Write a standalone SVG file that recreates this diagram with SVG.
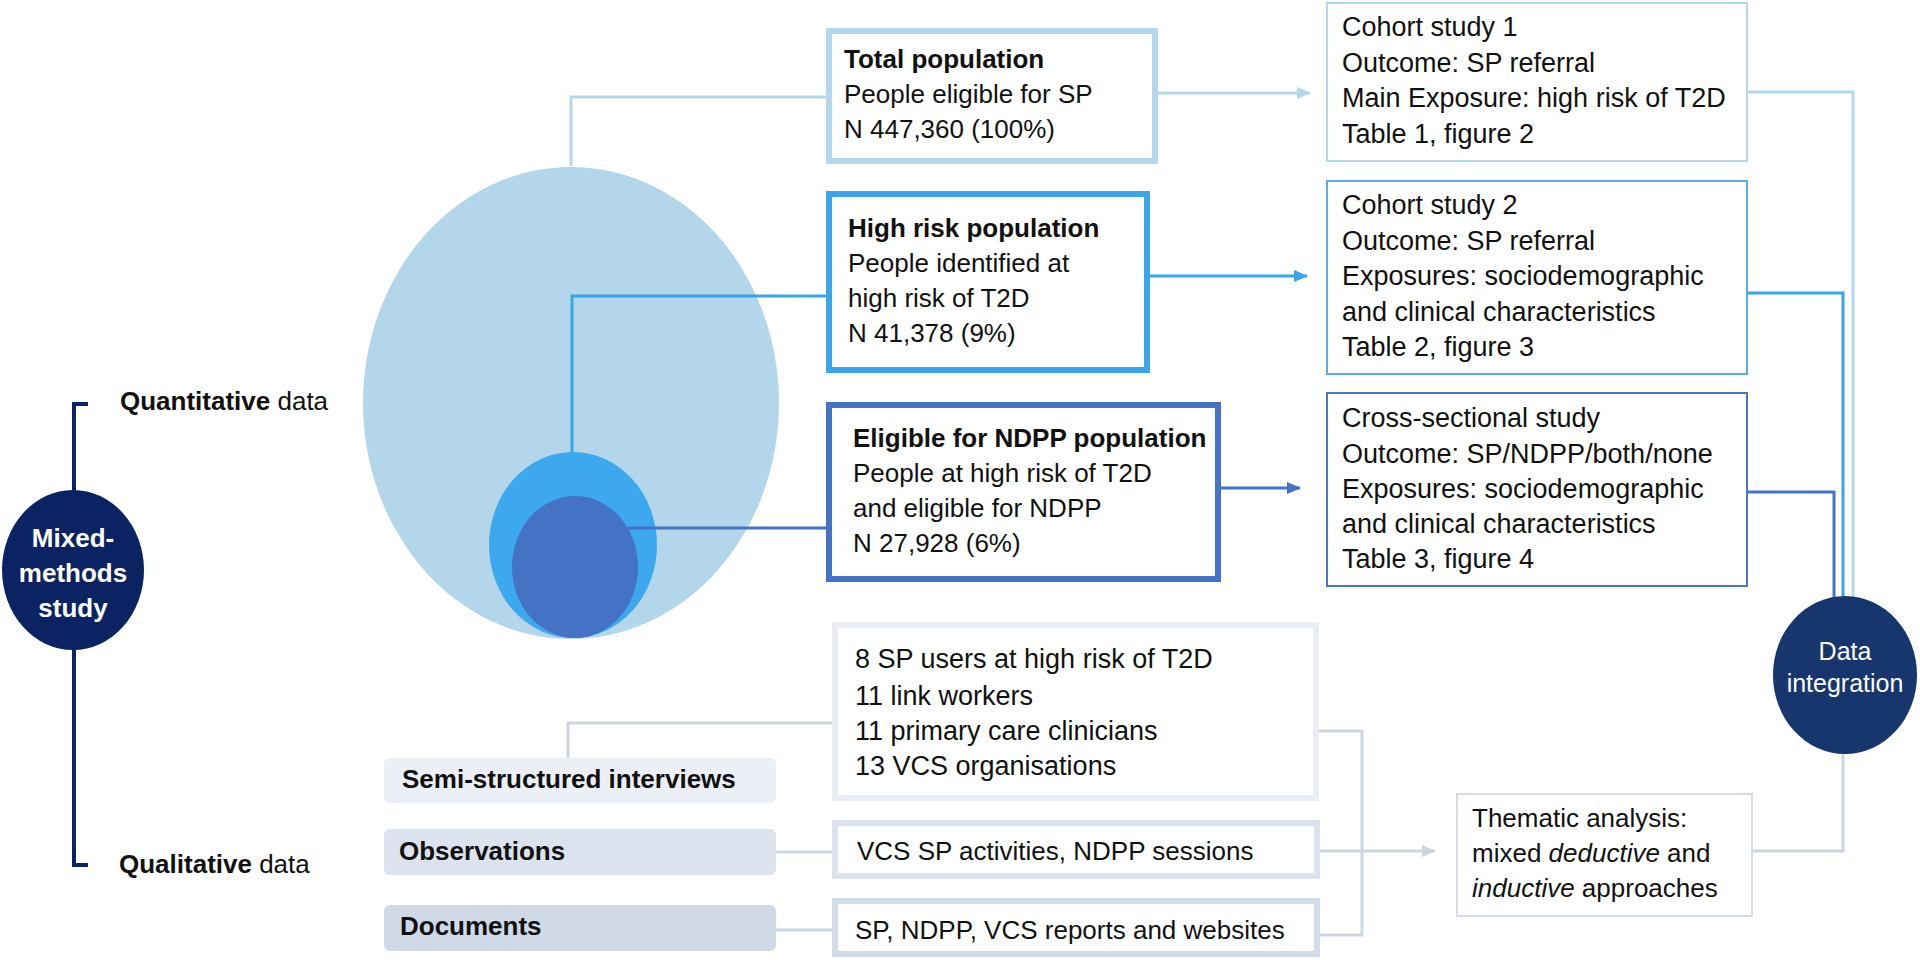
<svg xmlns="http://www.w3.org/2000/svg" width="1920" height="960" viewBox="0 0 1920 960">
<defs>
<style>
.t{font-family:"Liberation Sans",Arial,sans-serif;font-size:26px;fill:#111}
.r{font-size:27px}
.b{font-weight:bold}
.w{fill:#fff}
.c{fill:none;stroke-width:3}
.lb{stroke:#b4d7eb}
.bb{stroke:#3aa5ea}
.db{stroke:#4472c4}
.gr{stroke:#cdd5e3}
</style>
<marker id="aLb" markerUnits="userSpaceOnUse" markerWidth="14" markerHeight="12" refX="13" refY="6" orient="auto"><path d="M0,0 L14,6 L0,12 z" fill="#b4d7eb"/></marker>
<marker id="aBb" markerUnits="userSpaceOnUse" markerWidth="14" markerHeight="12" refX="13" refY="6" orient="auto"><path d="M0,0 L14,6 L0,12 z" fill="#3aa5ea"/></marker>
<marker id="aDb" markerUnits="userSpaceOnUse" markerWidth="14" markerHeight="12" refX="13" refY="6" orient="auto"><path d="M0,0 L14,6 L0,12 z" fill="#4472c4"/></marker>
<marker id="aGr" markerUnits="userSpaceOnUse" markerWidth="14" markerHeight="12" refX="13" refY="6" orient="auto"><path d="M0,0 L14,6 L0,12 z" fill="#cdd5e3"/></marker>
</defs>
<rect width="1920" height="960" fill="#fff"/>

<g id="populations">
<ellipse cx="571" cy="403" rx="208" ry="236" fill="#b3d6ea"/>
<ellipse cx="573" cy="545" rx="84" ry="93" fill="#3ea8ee"/>
<ellipse cx="575" cy="567" rx="63" ry="71" fill="#4472c4"/>
</g>

<g id="connectors">
<path class="c lb" d="M571,166 V97 H826"/>
<path class="c bb" d="M572,453 V296 H826"/>
<path class="c db" d="M628,528 H826"/>
<path class="c lb" d="M1158,93 H1310" marker-end="url(#aLb)"/>
<path class="c bb" d="M1150,276 H1307" marker-end="url(#aBb)"/>
<path class="c db" d="M1221,488 H1300" marker-end="url(#aDb)"/>
<path class="c lb" d="M1748,92 H1853 V606"/>
<path class="c bb" d="M1748,293 H1843 V606"/>
<path class="c db" d="M1748,492 H1834 V606"/>
<path class="c gr" d="M1843,750 V851 H1753"/>
<path class="c gr" d="M568,758 V723 H832"/>
<path class="c gr" d="M776,852 H832"/>
<path class="c gr" d="M776,930 H832"/>
<path class="c gr" d="M1319,731 H1362 V935 H1320"/>
<path class="c gr" d="M1320,851 H1435" marker-end="url(#aGr)"/>
<path d="M88,404 H74 V865 H88" fill="none" stroke="#0b2466" stroke-width="4"/>
</g>

<g id="mixed-methods">
<ellipse cx="73" cy="570" rx="71" ry="80" fill="#0b2362"/>
<text class="t b w" text-anchor="middle" x="73" y="547">Mixed-</text>
<text class="t b w" text-anchor="middle" x="73" y="582">methods</text>
<text class="t b w" text-anchor="middle" x="73" y="617">study</text>
</g>

<g id="quantitative-label">
<text class="t" x="120" y="410"><tspan class="b">Quantitative</tspan> data</text>
</g>
<g id="qualitative-label">
<text class="t" x="119" y="873"><tspan class="b">Qualitative</tspan> data</text>
</g>

<g id="total-population">
<rect x="829" y="31" width="326" height="130" fill="#fff" stroke="#b4d7eb" stroke-width="6"/>
<text class="t b" x="844" y="68">Total population</text>
<text class="t" x="844" y="103">People eligible for SP</text>
<text class="t" x="844" y="138">N 447,360 (100%)</text>
</g>

<g id="high-risk-population">
<rect x="829" y="194" width="318" height="176" fill="#fff" stroke="#3aa5ea" stroke-width="6"/>
<text class="t b" x="848" y="237">High risk population</text>
<text class="t" x="848" y="272">People identified at</text>
<text class="t" x="848" y="307">high risk of T2D</text>
<text class="t" x="848" y="342">N 41,378 (9%)</text>
</g>

<g id="ndpp-population">
<rect x="829" y="405" width="389" height="174" fill="#fff" stroke="#4472c4" stroke-width="6"/>
<text class="t b" x="853" y="447">Eligible for NDPP population</text>
<text class="t" x="853" y="482">People at high risk of T2D</text>
<text class="t" x="853" y="517">and eligible for NDPP</text>
<text class="t" x="853" y="552">N 27,928 (6%)</text>
</g>

<g id="cohort-study-1">
<rect x="1327" y="3" width="420" height="158" fill="#fff" stroke="#b4d7eb" stroke-width="2"/>
<text class="t r" x="1342" y="36">Cohort study 1</text>
<text class="t r" x="1342" y="72">Outcome: SP referral</text>
<text class="t r" x="1342" y="107">Main Exposure: high risk of T2D</text>
<text class="t r" x="1342" y="143">Table 1, figure 2</text>
</g>

<g id="cohort-study-2">
<rect x="1327" y="181" width="420" height="193" fill="#fff" stroke="#5aaee6" stroke-width="2"/>
<text class="t r" x="1342" y="214">Cohort study 2</text>
<text class="t r" x="1342" y="250">Outcome: SP referral</text>
<text class="t r" x="1342" y="285">Exposures: sociodemographic</text>
<text class="t r" x="1342" y="321">and clinical characteristics</text>
<text class="t r" x="1342" y="356">Table 2, figure 3</text>
</g>

<g id="cross-sectional-study">
<rect x="1327" y="393" width="420" height="193" fill="#fff" stroke="#4a77c6" stroke-width="2"/>
<text class="t r" x="1342" y="427">Cross-sectional study</text>
<text class="t r" x="1342" y="463">Outcome: SP/NDPP/both/none</text>
<text class="t r" x="1342" y="498">Exposures: sociodemographic</text>
<text class="t r" x="1342" y="533">and clinical characteristics</text>
<text class="t r" x="1342" y="568">Table 3, figure 4</text>
</g>

<g id="data-integration">
<ellipse cx="1845" cy="675" rx="72" ry="79" fill="#17366d"/>
<text class="t w" style="font-size:25px" text-anchor="middle" x="1845" y="660">Data</text>
<text class="t w" style="font-size:25px" text-anchor="middle" x="1845" y="692">integration</text>
</g>

<g id="semi-structured-interviews">
<rect x="384" y="758" width="392" height="45" rx="6" fill="#eceff6"/>
<text class="t b" x="402" y="788">Semi-structured interviews</text>
</g>
<g id="observations">
<rect x="384" y="829" width="392" height="46" rx="6" fill="#dde3ee"/>
<text class="t b" x="399" y="860">Observations</text>
</g>
<g id="documents">
<rect x="384" y="905" width="392" height="46" rx="6" fill="#cfd9e8"/>
<text class="t b" x="400" y="935">Documents</text>
</g>

<g id="interview-participants">
<rect x="835" y="625" width="481" height="173" fill="#fff" stroke="#eaedf3" stroke-width="6"/>
<text class="t r" x="855" y="668">8 SP users at high risk of T2D</text>
<text class="t r" x="855" y="705">11 link workers</text>
<text class="t r" x="855" y="740">11 primary care clinicians</text>
<text class="t r" x="855" y="775">13 VCS organisations</text>
</g>
<g id="observation-sources">
<rect x="835" y="823" width="482" height="53" fill="#fff" stroke="#dde3ee" stroke-width="6"/>
<text class="t" x="857" y="860">VCS SP activities, NDPP sessions</text>
</g>
<g id="document-sources">
<rect x="835" y="901" width="482" height="53" fill="#fff" stroke="#d3dce9" stroke-width="6"/>
<text class="t" x="855" y="939">SP, NDPP, VCS reports and websites</text>
</g>

<g id="thematic-analysis">
<rect x="1457" y="794" width="295" height="122" fill="#fff" stroke="#d5dce6" stroke-width="2"/>
<text class="t" x="1472" y="827">Thematic analysis:</text>
<text class="t" x="1472" y="862">mixed <tspan font-style="italic">deductive</tspan> and</text>
<text class="t" x="1472" y="897"><tspan font-style="italic">inductive</tspan> approaches</text>
</g>
</svg>
